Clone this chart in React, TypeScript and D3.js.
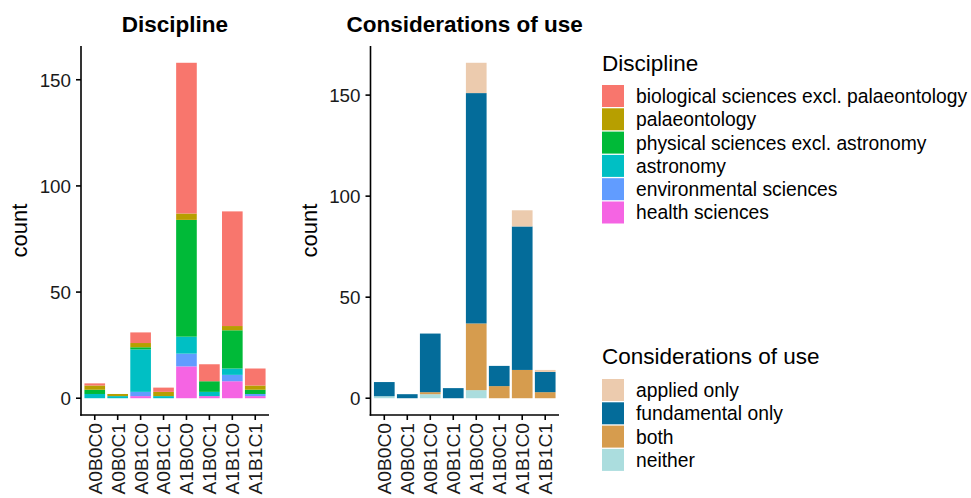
import React, { useEffect, useRef } from 'react';
import * as d3 from 'd3';

const categories = ['A0B0C0', 'A0B0C1', 'A0B1C0', 'A0B1C1', 'A1B0C0', 'A1B0C1', 'A1B1C0', 'A1B1C1'];

// Discipline counts per category
const biological = [1, 0, 5, 2, 71, 8, 54, 8];
const palaeontology = [2, 1, 2, 2, 3, 0, 2, 2];
const physical = [2, 0, 1, 0, 55, 5, 18, 2];
const astronomy = [2, 1, 20, 1, 8, 2, 3, 0];
const environmental = [0, 0, 2, 0, 6, 0, 3, 1];
const health = [0, 0, 1, 0, 15, 1, 8, 1];

const disciplineLabels = [
  'biological sciences excl. palaeontology',
  'palaeontology',
  'physical sciences excl. astronomy',
  'astronomy',
  'environmental sciences',
  'health sciences',
];
const disciplineColors = ['#F8766D', '#B79F00', '#00BA38', '#00BFC4', '#619CFF', '#F564E3'];

// Considerations of use counts per category
const appliedOnly = [0, 0, 0, 0, 15, 0, 8, 1];
const fundamentalOnly = [7, 2, 29, 5, 114, 10, 71, 10];
const both = [0, 0, 1, 0, 33, 6, 14, 3];
const neither = [1, 0, 2, 0, 4, 0, 0, 0];

const useLabels = ['applied only', 'fundamental only', 'both', 'neither'];
const useColors = ['#ECCBAE', '#046C9A', '#D69C4E', '#ABDDDE'];

const yTicks = [0, 50, 100, 150];

const FONT = "'Liberation Sans', Arial, Helvetica, sans-serif";

const App = () => {
  const ref = useRef(null);

  useEffect(() => {
    const svg = d3.select(ref.current);
    svg.selectAll('*').remove();

    const top = 46, bottom = 415;

    const drawPanel = (x0: number, x1: number, title: string, series: number[][], colors: string[]) => {
      // series given top-first (legend order); stack bottom-first like ggplot
      const keys = series.map((_, i) => i).reverse();
      const rows = categories.map((c, j) => {
        const r: any = { cat: c };
        series.forEach((s, i) => { r[i] = s[j]; });
        return r;
      });
      const stacked = d3.stack().keys(keys.map(String))(rows);
      const maxV = d3.max(rows, (r: any) => d3.sum(series.map((_, i) => r[i]))) as number;

      const x = d3.scaleBand().domain(categories).range([x0, x1]).paddingInner(0.1).paddingOuter(0.15);
      const y = d3.scaleLinear().domain([-0.05 * maxV, 1.05 * maxV]).range([bottom, top]);

      const g = svg.append('g');
      stacked.forEach((layer: any) => {
        const color = colors[+layer.key];
        g.append('g').selectAll('rect')
          .data(layer)
          .enter().append('rect')
          .attr('x', (d: any) => x(d.data.cat) as number)
          .attr('width', x.bandwidth())
          .attr('y', (d: any) => y(d[1]))
          .attr('height', (d: any) => Math.max(0, y(d[0]) - y(d[1])))
          .attr('fill', color);
      });

      // axes
      g.append('line').attr('x1', x0).attr('x2', x0).attr('y1', top).attr('y2', bottom + 0.8)
        .attr('stroke', '#000').attr('stroke-width', 1.6);
      g.append('line').attr('x1', x0 - 0.8).attr('x2', x1).attr('y1', bottom).attr('y2', bottom)
        .attr('stroke', '#000').attr('stroke-width', 1.6);

      yTicks.forEach(t => {
        g.append('line').attr('x1', x0 - 5).attr('x2', x0).attr('y1', y(t)).attr('y2', y(t))
          .attr('stroke', '#000').attr('stroke-width', 1.6);
        g.append('text').attr('x', x0 - 10).attr('y', y(t)).attr('dy', '0.36em')
          .attr('text-anchor', 'end').attr('font-size', 18.8).attr('font-family', FONT)
          .attr('fill', '#1a1a1a').text(t);
      });

      categories.forEach(c => {
        const cx = (x(c) as number) + x.bandwidth() / 2;
        g.append('line').attr('x1', cx).attr('x2', cx).attr('y1', bottom).attr('y2', bottom + 5)
          .attr('stroke', '#000').attr('stroke-width', 1.6);
        g.append('text')
          .attr('transform', `translate(${cx},${bottom + 8}) rotate(-90)`)
          .attr('dy', '0.36em')
          .attr('text-anchor', 'end').attr('font-size', 19.2).attr('font-family', FONT)
          .attr('fill', '#1a1a1a').text(c);
      });

      g.append('text')
        .attr('transform', `translate(${x0 - 54},${(top + bottom) / 2}) rotate(-90)`)
        .attr('text-anchor', 'middle').attr('font-size', 22).attr('font-family', FONT)
        .attr('fill', '#000').text('count');

      g.append('text').attr('x', (x0 + x1) / 2).attr('y', 32)
        .attr('text-anchor', 'middle').attr('font-size', 22.5).attr('font-weight', 'bold')
        .attr('font-family', FONT).attr('fill', '#000').text(title);
    };

    drawPanel(81, 269, 'Discipline',
      [biological, palaeontology, physical, astronomy, environmental, health], disciplineColors);
    drawPanel(370.5, 559, 'Considerations of use',
      [appliedOnly, fundamentalOnly, both, neither], useColors);

    const drawLegend = (lx: number, titleY: number, keyTop: number, title: string, labels: string[], colors: string[]) => {
      const g = svg.append('g');
      g.append('text').attr('x', lx).attr('y', titleY).attr('font-size', 22.5)
        .attr('font-family', FONT).attr('fill', '#000').text(title);
      labels.forEach((l, i) => {
        const ky = keyTop + i * 23.3;
        g.append('rect').attr('x', lx).attr('y', ky).attr('width', 22).attr('height', 22)
          .attr('fill', colors[i]);
        g.append('text').attr('x', lx + 34).attr('y', ky + 11).attr('dy', '0.36em')
          .attr('font-size', 19.3).attr('font-family', FONT).attr('fill', '#000').text(l);
      });
    };

    drawLegend(602, 70.5, 85, 'Discipline', disciplineLabels, disciplineColors);
    drawLegend(602, 364, 379, 'Considerations of use', useLabels, useColors);
  }, []);

  return (
    <svg
      ref={ref}
      width={971}
      height={498}
      style={{ position: 'absolute', left: 0, top: 0, background: '#fff' }}
    />
  );
};

export default App;
